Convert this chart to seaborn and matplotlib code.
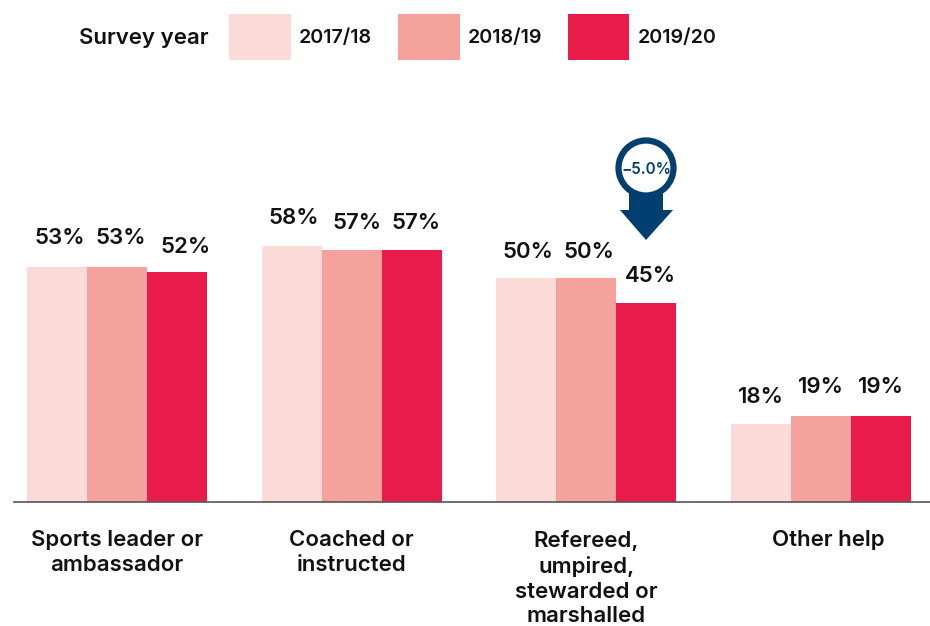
"""Volunteering roles by survey year, grouped bars."""

import matplotlib.pyplot as plt
import pandas as pd
import seaborn as sb
from matplotlib.patches import Circle, Polygon
from matplotlib.transforms import ScaledTranslation

OUTPUT_FILE = "out.png"

CATEGORIES = [
    "Sports leader or\nambassador",
    "Coached or\ninstructed",
    "Refereed,\numpired,\nstewarded or\nmarshalled",
    "Other help",
]
YEARS = ["2017/18", "2018/19", "2019/20"]
VALUES_2017 = [52.9, 57.7, 50.4, 17.6]
VALUES_2018 = [52.9, 56.8, 50.4, 19.4]
VALUES_2019 = [51.8, 56.8, 44.8, 19.4]

# hand placed value labels in the original, nudges in points per year
LABEL_DX = [[2, 1.5, 1, 0], [3, 4, 2, 0], [6.5, 3, 3, 0]]
LABEL_DY = [[1.5, 1, 0, 0], [1.5, 0, 0, 1.5], [-1.5, 0, 0.5, 1.5]]

COLOURS = ["#FBDAD8", "#F5A19C", "#E81B4B"]
NAVY = "#003F6F"
INK = "#111111"

sb.set_theme(style="white")
plt.rcParams["font.family"] = ["Inter", "DejaVu Sans"]
plt.rcParams["font.weight"] = "semibold"

df = pd.DataFrame(
    {
        "category": CATEGORIES * 3,
        "year": [y for y in YEARS for _ in CATEGORIES],
        "value": VALUES_2017 + VALUES_2018 + VALUES_2019,
    }
)

W, H = 930, 626
fig = plt.figure(figsize=(W / 100, H / 100), dpi=100)
ax = fig.add_axes([14 / W, (H - 502) / H, (W - 14) / W, 372 / H])

sb.barplot(
    data=df,
    x="category",
    y="value",
    hue="year",
    palette=COLOURS,
    width=0.767,
    gap=0,
    saturation=1,
    errorbar=None,
    linewidth=0,
    ax=ax,
)

ax.set_xlim(-0.439, 3.464)
ax.set_ylim(0, 83.8)
ax.set_xlabel("")
ax.set_ylabel("")
ax.set_yticks([])
ax.tick_params(axis="x", length=0, pad=20, labelsize=16, labelcolor=INK)
tick_labels = ax.get_xticklabels()
for label in tick_labels:
    label.set_linespacing(1.3)
# "Other help" sits right of its group centre
tick_labels[3].set_transform(
    tick_labels[3].get_transform() + ScaledTranslation(7 / 100, 0, fig.dpi_scale_trans)
)
sb.despine(ax=ax, left=True)
ax.spines["bottom"].set_color("#555555")
ax.spines["bottom"].set_linewidth(1.2)

for i, container in enumerate(ax.containers):
    anns = ax.bar_label(container, fmt="%.0f%%", padding=12, fontsize=16, color=INK)
    for j, ann in enumerate(anns):
        ann.xyann = (LABEL_DX[i][j], 12 + LABEL_DY[i][j])

handles, labels = ax.get_legend_handles_labels()
ax.get_legend().remove()
fig.legend(
    handles,
    labels,
    ncol=3,
    loc="upper left",
    bbox_to_anchor=(229 / W, 1 - 14 / H),
    borderpad=0,
    borderaxespad=0,
    frameon=False,
    fontsize=14.2,
    handlelength=3.14,
    handleheight=3.2,
    handletextpad=0.4,
    columnspacing=1.3,
    labelcolor=INK,
)

# overlay in pixel coordinates for the callout and legend heading
over = fig.add_axes([0, 0, 1, 1])
over.set_xlim(0, W)
over.set_ylim(H, 0)
over.axis("off")
over.text(79, 38, "Survey year", fontsize=16, color=INK, va="center", ha="left")
over.add_patch(Polygon(
    [(629, 190), (663, 190), (663, 210), (673, 210), (646, 240), (620, 210), (629, 210)],
    closed=True, color=NAVY, lw=0,
))
over.add_patch(Circle((646, 168), 27.5, facecolor="white", edgecolor=NAVY, lw=4.5))
over.text(646, 169, "−5.0%", fontsize=11, color=NAVY, ha="center", va="center")

fig.savefig(OUTPUT_FILE, dpi=100)
plt.close(fig)
